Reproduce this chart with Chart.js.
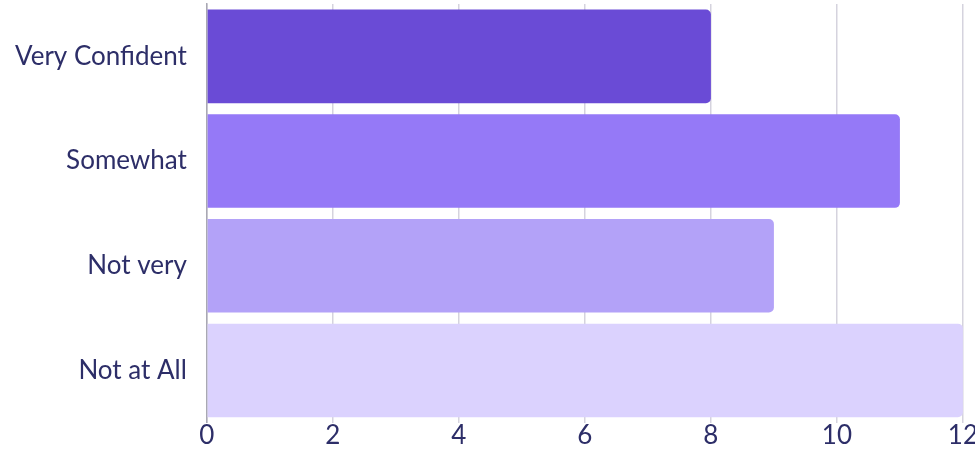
<!DOCTYPE html>
<html>
<head>
<meta charset="utf-8">
<script src="https://cdn.jsdelivr.net/npm/chart.js@4/dist/chart.umd.min.js"></script>
<style>
  html, body { margin: 0; padding: 0; background: #fff; }
  #wrap { width: 975px; height: 454px; }
</style>
</head>
<body>
<div id="wrap"><canvas id="myChart"></canvas></div>
<script>
const categories = ['Very Confident', 'Somewhat', 'Not very', 'Not at All'];
const counts = [8, 11, 9, 12];
const barColors = ['#6a4bd6', '#9579f7', '#b3a2f8', '#dbd2fe'];
const xTicks = [0, 2, 4, 6, 8, 10, 12];

const textColor = '#2d2e68';

const config = {
    type: 'bar',
    data: {
        labels: categories,
        datasets: [{
            data: counts,
            backgroundColor: barColors,
            borderRadius: 5,
            borderSkipped: 'start',
            barPercentage: 0.894,
            categoryPercentage: 1.0
        }]
    },
    options: {
        indexAxis: 'y',
        responsive: true,
        maintainAspectRatio: false,
        animation: false,
        layout: { padding: { top: 4, right: 5, bottom: 6, left: -5 } },
        plugins: {
            legend: { display: false },
            tooltip: { enabled: false }
        },
        scales: {
            x: {
                min: xTicks[0],
                max: xTicks[xTicks.length - 1],
                afterBuildTicks: (axis) => {
                    axis.ticks = xTicks.map(v => ({ value: v }));
                },
                grid: { color: '#d5d3de', lineWidth: 1.5, drawTicks: false },
                border: { display: false },
                ticks: {
                    color: textColor,
                    padding: -3,
                    font: { family: 'Lato', size: 26 }
                }
            },
            y: {
                // labels sit in the middle of each band, so no extra top/bottom room
                afterFit: (axis) => {
                    axis.paddingTop = 0;
                    axis.paddingBottom = 0;
                },
                grid: { display: false, drawTicks: false },
                border: { display: true, color: '#a9a8b3', width: 1.5 },
                ticks: {
                    color: textColor,
                    padding: 20,
                    font: { family: 'Lato', size: 26 }
                }
            }
        }
    }
};

let myChart = new Chart(document.getElementById('myChart'), config);
</script>
</body>
</html>
